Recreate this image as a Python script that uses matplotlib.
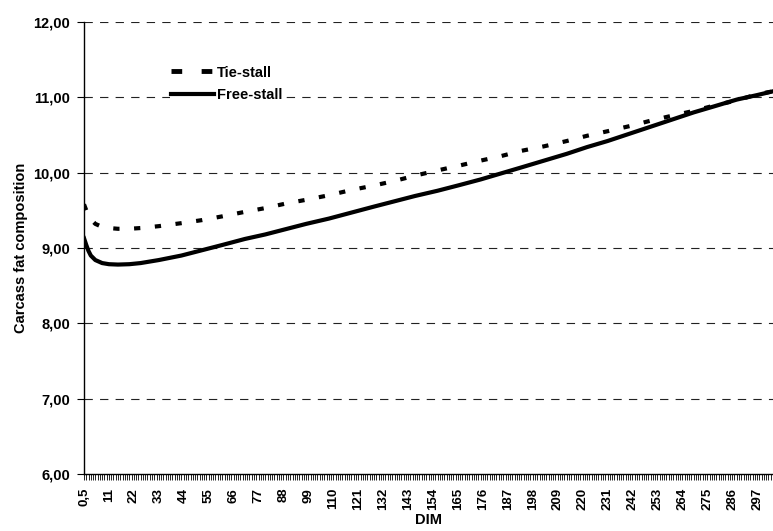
import matplotlib
matplotlib.use("Agg")
import matplotlib.pyplot as plt
from matplotlib.ticker import FixedLocator, MultipleLocator
from matplotlib.lines import Line2D

plt.rcParams['font.family'] = ['Liberation Sans', 'DejaVu Sans']

# Data (DIM = days in milk)
dim = [0.5, 1, 2, 3, 5, 8, 11, 15, 20, 25, 33, 43, 52, 61, 71, 80, 89, 98,
       108, 118, 128, 137, 146, 156, 165, 175, 184, 193, 203, 213, 222, 231,
       241, 250, 260, 269, 278, 288, 297, 304]
tie_stall = [9.58, 9.50, 9.43, 9.38, 9.32, 9.28, 9.265, 9.255, 9.255, 9.265,
             9.29, 9.33, 9.37, 9.42, 9.48, 9.53, 9.59, 9.64, 9.70, 9.77,
             9.83, 9.89, 9.96, 10.03, 10.09, 10.16, 10.22, 10.29, 10.35,
             10.42, 10.49, 10.55, 10.62, 10.69, 10.76, 10.82, 10.89, 10.96,
             11.04, 11.08]
free_stall = [9.13, 9.04, 8.96, 8.90, 8.84, 8.80, 8.785, 8.78, 8.785, 8.80,
              8.84, 8.90, 8.97, 9.04, 9.12, 9.18, 9.25, 9.32, 9.39, 9.47,
              9.55, 9.62, 9.69, 9.76, 9.83, 9.91, 9.99, 10.07, 10.16, 10.25,
              10.34, 10.42, 10.52, 10.61, 10.71, 10.80, 10.88, 10.97, 11.03,
              11.08]
tick_labels = ["0,5", "11", "22", "33", "44", "55", "66", "77", "88", "99",
               "110", "121", "132", "143", "154", "165", "176", "187", "198",
               "209", "220", "231", "242", "253", "264", "275", "286", "297"]
y_ticks = [6, 7, 8, 9, 10, 11, 12]
y_labels = ["6,00", "7,00", "8,00", "9,00", "10,00", "11,00", "12,00"]

# category positions: 0.5 -> 0, n -> n
pos = [0 if d == 0.5 else d for d in dim]
tick_pos = [0 if l == "0,5" else int(l) for l in tick_labels]

fig = plt.figure(figsize=(7.73, 5.31), dpi=100)
ax = fig.add_axes([84 / 773, 1 - 474 / 531, 1 - 84 / 773, (474 - 22) / 531])

for yv in y_ticks[1:]:
    ax.axhline(yv, color='#222222', lw=0.8, ls=(0, (7.5, 6.5)), zorder=1)

ax.plot(pos, tie_stall, color='black', lw=3, ls=(0, (1.5, 3.5)),
        solid_capstyle='butt', dash_capstyle='butt', zorder=3)
ax.plot(pos, free_stall, color='black', lw=3, ls='-', zorder=3)

ax.set_xlim(0, 304)
ax.set_ylim(6, 12)
ax.xaxis.set_major_locator(FixedLocator(tick_pos))
ax.set_xticklabels(tick_labels, rotation=90, fontsize=9.5, fontweight='bold')
ax.xaxis.set_minor_locator(MultipleLocator(1))
ax.tick_params(axis='x', which='both', length=4, width=0.6, direction='out',
               pad=6)
ax.set_yticks(y_ticks)
ax.set_yticklabels(y_labels, fontsize=10.5, fontweight='bold')
ax.tick_params(axis='y', length=5, width=0.8, direction='out', pad=5)

for s in ['top', 'right']:
    ax.spines[s].set_visible(False)
ax.spines['left'].set_linewidth(1.0)
ax.spines['bottom'].set_linewidth(1.0)

ax.set_xlabel("DIM", fontsize=10.5, fontweight='bold', labelpad=2)
ax.set_ylabel("Carcass fat composition", fontsize=10.5, fontweight='bold',
              labelpad=4)

handles = [Line2D([], [], color='black', lw=3.5, ls=(0, (2.2, 4))),
           Line2D([], [], color='black', lw=3, ls='-')]
leg = ax.legend(handles, ["Tie-stall", "Free-stall"], loc='upper left',
                bbox_to_anchor=(0.114, 0.923), frameon=True,
                handlelength=2.9, handletextpad=0.2, labelspacing=0.58,
                borderpad=0.1, prop={'weight': 'bold', 'size': 10.5})
leg.get_frame().set_facecolor('white')
leg.get_frame().set_edgecolor('none')
leg.get_frame().set_alpha(1)
leg.set_zorder(5)

fig.savefig("out.png", dpi=100)
